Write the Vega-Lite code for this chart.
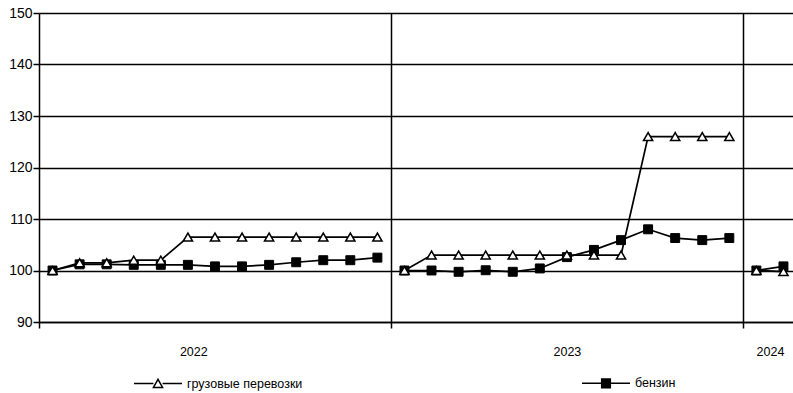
{
  "$schema": "https://vega.github.io/schema/vega-lite/v6.json",
  "autosize": {"type": "none"},
  "padding": {"left": 39, "top": 13, "right": 0, "bottom": 71},
  "width": 758,
  "height": 309,
  "background": "white",
  "config": {
    "view": {"stroke": null},
    "font": "Liberation Sans",
    "axis": {"labelFont": "Liberation Sans", "labelFontSize": 12, "labelColor": "#000", "domainColor": "#000", "tickColor": "#000", "gridColor": "#000"}
  },
  "data": {
    "values": [
      {"idx": 0, "year": "2022", "series": "грузовые перевозки", "value": 100},
      {"idx": 1, "year": "2022", "series": "грузовые перевозки", "value": 101.5},
      {"idx": 2, "year": "2022", "series": "грузовые перевозки", "value": 101.5},
      {"idx": 3, "year": "2022", "series": "грузовые перевозки", "value": 102},
      {"idx": 4, "year": "2022", "series": "грузовые перевозки", "value": 102},
      {"idx": 5, "year": "2022", "series": "грузовые перевозки", "value": 106.5},
      {"idx": 6, "year": "2022", "series": "грузовые перевозки", "value": 106.5},
      {"idx": 7, "year": "2022", "series": "грузовые перевозки", "value": 106.5},
      {"idx": 8, "year": "2022", "series": "грузовые перевозки", "value": 106.5},
      {"idx": 9, "year": "2022", "series": "грузовые перевозки", "value": 106.5},
      {"idx": 10, "year": "2022", "series": "грузовые перевозки", "value": 106.5},
      {"idx": 11, "year": "2022", "series": "грузовые перевозки", "value": 106.5},
      {"idx": 12, "year": "2022", "series": "грузовые перевозки", "value": 106.5},
      {"idx": 13, "year": "2023", "series": "грузовые перевозки", "value": 100},
      {"idx": 14, "year": "2023", "series": "грузовые перевозки", "value": 103},
      {"idx": 15, "year": "2023", "series": "грузовые перевозки", "value": 103},
      {"idx": 16, "year": "2023", "series": "грузовые перевозки", "value": 103},
      {"idx": 17, "year": "2023", "series": "грузовые перевозки", "value": 103},
      {"idx": 18, "year": "2023", "series": "грузовые перевозки", "value": 103},
      {"idx": 19, "year": "2023", "series": "грузовые перевозки", "value": 103},
      {"idx": 20, "year": "2023", "series": "грузовые перевозки", "value": 103},
      {"idx": 21, "year": "2023", "series": "грузовые перевозки", "value": 103},
      {"idx": 22, "year": "2023", "series": "грузовые перевозки", "value": 126},
      {"idx": 23, "year": "2023", "series": "грузовые перевозки", "value": 126},
      {"idx": 24, "year": "2023", "series": "грузовые перевозки", "value": 126},
      {"idx": 25, "year": "2023", "series": "грузовые перевозки", "value": 126},
      {"idx": 26, "year": "2024", "series": "грузовые перевозки", "value": 100},
      {"idx": 27, "year": "2024", "series": "грузовые перевозки", "value": 99.8},
      {"idx": 0, "year": "2022", "series": "бензин", "value": 100},
      {"idx": 1, "year": "2022", "series": "бензин", "value": 101.2},
      {"idx": 2, "year": "2022", "series": "бензин", "value": 101.2},
      {"idx": 3, "year": "2022", "series": "бензин", "value": 101.1},
      {"idx": 4, "year": "2022", "series": "бензин", "value": 101.1},
      {"idx": 5, "year": "2022", "series": "бензин", "value": 101.1},
      {"idx": 6, "year": "2022", "series": "бензин", "value": 100.8},
      {"idx": 7, "year": "2022", "series": "бензин", "value": 100.8},
      {"idx": 8, "year": "2022", "series": "бензин", "value": 101.1},
      {"idx": 9, "year": "2022", "series": "бензин", "value": 101.6},
      {"idx": 10, "year": "2022", "series": "бензин", "value": 102.0},
      {"idx": 11, "year": "2022", "series": "бензин", "value": 102.0},
      {"idx": 12, "year": "2022", "series": "бензин", "value": 102.5},
      {"idx": 13, "year": "2023", "series": "бензин", "value": 100},
      {"idx": 14, "year": "2023", "series": "бензин", "value": 100},
      {"idx": 15, "year": "2023", "series": "бензин", "value": 99.75},
      {"idx": 16, "year": "2023", "series": "бензин", "value": 100.05},
      {"idx": 17, "year": "2023", "series": "бензин", "value": 99.75},
      {"idx": 18, "year": "2023", "series": "бензин", "value": 100.4},
      {"idx": 19, "year": "2023", "series": "бензин", "value": 102.6},
      {"idx": 20, "year": "2023", "series": "бензин", "value": 104.0},
      {"idx": 21, "year": "2023", "series": "бензин", "value": 105.9},
      {"idx": 22, "year": "2023", "series": "бензин", "value": 108.0},
      {"idx": 23, "year": "2023", "series": "бензин", "value": 106.3},
      {"idx": 24, "year": "2023", "series": "бензин", "value": 105.9},
      {"idx": 25, "year": "2023", "series": "бензин", "value": 106.3},
      {"idx": 26, "year": "2024", "series": "бензин", "value": 100},
      {"idx": 27, "year": "2024", "series": "бензин", "value": 100.8}
    ]
  },
  "encoding": {
    "x": {
      "field": "idx", "type": "quantitative",
      "scale": {"domain": [-0.5, 27.5], "nice": false, "zero": false},
      "axis": {
        "title": null,
        "values": [-0.5, 5.2, 12.5, 19, 25.5, 26.5],
        "labelExpr": "datum.value == 5.2 ? '2022' : datum.value == 19 ? '2023' : datum.value == 26.5 ? '2024' : ''",
        "grid": true,
        "gridWidth": 1.5,
        "gridOpacity": {"condition": {"test": "datum.value == 12.5 || datum.value == 25.5", "value": 1}, "value": 0},
        "tickOpacity": {"condition": {"test": "datum.value == 5.2 || datum.value == 19 || datum.value == 26.5", "value": 0}, "value": 1},
        "tickSize": 6,
        "tickWidth": 1.5,
        "domainWidth": 1.5,
        "labelFontSize": 12.5,
        "labelPadding": 17,
        "labelFlush": false,
        "labelOverlap": false
      }
    },
    "y": {
      "field": "value", "type": "quantitative",
      "scale": {"domain": [90, 150], "nice": false, "zero": false},
      "axis": {
        "title": null,
        "values": [90, 100, 110, 120, 130, 140, 150],
        "grid": true,
        "gridWidth": 1.5,
        "tickSize": 6,
        "tickWidth": 1.5,
        "domainWidth": 1.5,
        "labelFontSize": 14,
        "labelPadding": 1
      }
    }
  },
  "layer": [
    {
      "mark": {"type": "line", "color": "#000", "strokeWidth": 1.7},
      "encoding": {"detail": [{"field": "series"}, {"field": "year"}]}
    },
    {
      "transform": [{"filter": "datum.series === 'бензин'"}],
      "mark": {"type": "point", "shape": "square", "filled": true, "fill": "#000", "stroke": "#000", "strokeWidth": 1, "size": 80, "opacity": 1}
    },
    {
      "transform": [{"filter": "datum.series === 'грузовые перевозки'"}],
      "mark": {"type": "point", "shape": "triangle-up", "filled": true, "fill": "#fff", "stroke": "#000", "strokeWidth": 1.5, "size": 85, "opacity": 1}
    },
    {
      "transform": [{"filter": "datum.idx < 0"}],
      "mark": {"type": "point", "filled": true, "strokeWidth": 1.5, "opacity": 1},
      "encoding": {
        "shape": {
          "field": "series", "type": "nominal",
          "scale": {"domain": ["грузовые перевозки", "бензин"], "range": ["M-1,0H-0.19M0.19,0H1M-0.19,0.16L0,-0.18L0.19,0.16Z", "M-1,0H1M-0.18,-0.18H0.18V0.18H-0.18Z"]},
          "legend": {
            "title": null,
            "orient": "none",
            "direction": "horizontal",
            "columns": 2,
            "columnPadding": 276,
            "legendX": 94,
            "legendY": 345,
            "symbolSize": 2304,
            "symbolStrokeColor": "#000",
            "symbolStrokeWidth": 1.5,
            "labelFont": "Liberation Sans",
            "labelFontSize": 12.5,
            "labelColor": "#000",
            "labelOffset": 4,
            "labelLimit": 300,
            "encode": {
              "symbols": {
                "update": {
                  "stroke": {"value": "#000"},
                  "strokeWidth": {"value": 1.5}
                }
              }
            }
          }
        },
        "fill": {
          "field": "series", "type": "nominal",
          "scale": {"domain": ["грузовые перевозки", "бензин"], "range": ["#fff", "#000"]}
        },
        "stroke": {
          "field": "series", "type": "nominal",
          "scale": {"domain": ["грузовые перевозки", "бензин"], "range": ["#000", "#000"]}
        }
      }
    }
  ]
}
